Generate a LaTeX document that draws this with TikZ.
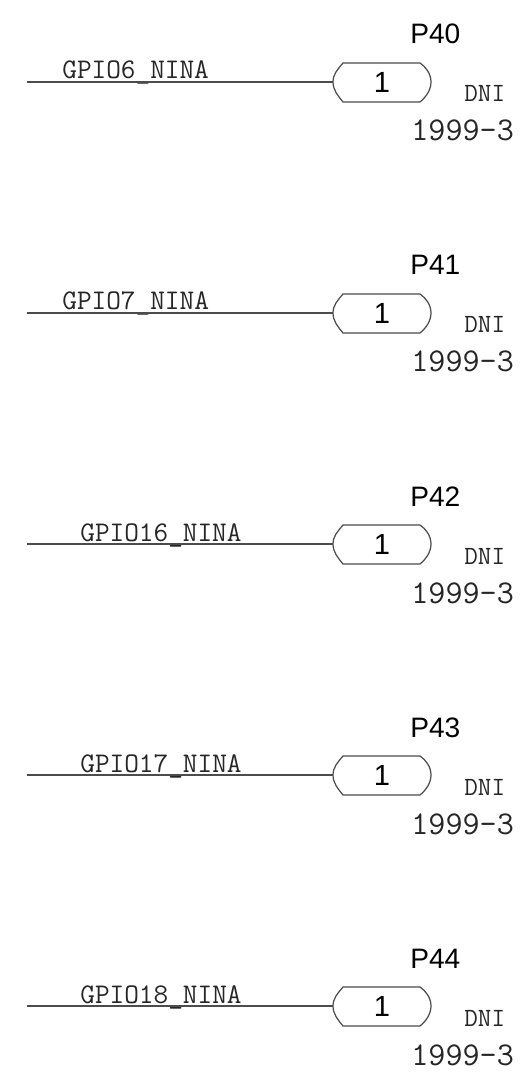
\documentclass[tikz,border=0pt]{standalone}
\usepackage{fontspec}
\setmainfont{Liberation Sans}
\begin{document}
\begin{tikzpicture}[
        x=0.02cm, y=-0.02cm,
        pinbox/.style={inner sep=0pt, font=\fontsize{16.6}{18}\selectfont},
        reftext/.style={anchor=base west, inner sep=0pt, font=\fontsize{16}{18}\selectfont},
        nettext/.style={anchor=base west, inner sep=0pt, text=black!85, font=\ttfamily\fontsize{16.2}{18}\selectfont},
        dnitext/.style={anchor=base west, inner sep=0pt, text=black!85, font=\ttfamily\fontsize{15}{18}\selectfont},
        parttext/.style={anchor=base west, inner sep=0pt, text=black!85, font=\ttfamily\fontsize{18.9}{20}\selectfont},
        wire/.style={draw=black!70, line width=0.7pt}
    ]
        \useasboundingbox (0,0) rectangle (526,1077);
        \foreach \num/\net/\netx/\y in {40/GPIO6\_NINA/62/82, 41/GPIO7\_NINA/62/313, 42/GPIO16\_NINA/80/544, 43/GPIO17\_NINA/80/775, 44/GPIO18\_NINA/80/1006} {
            \coordinate (start\num) at (27,\y);
            \coordinate (west\num) at (333,\y);
            \node[pinbox] (pin\num) at (382,\y) {1};
            \node[reftext] (ref\num) at (410,\y-38) {P\num};
            \node[nettext] (net\num) at (\netx,\y-3) {\net};
            \node[dnitext] (dni\num) at (464,\y+20) {DNI};
            \node[parttext] (part\num) at (411,\y+59) {1999-3};

            \draw[wire] (start\num) -- (west\num);
            % pin outline
            \draw[wire] (west\num) .. controls (333,\y-8) and (338,\y-13) .. (343,\y-19) -- (420,\y-19)
                .. controls (426,\y-15) and (431,\y-8) .. (431,\y)
                .. controls (431,\y+8) and (426,\y+15) .. (420,\y+20) -- (343,\y+20)
                .. controls (338,\y+14) and (333,\y+8) .. (west\num);
        }
    \end{tikzpicture}
\end{document}
